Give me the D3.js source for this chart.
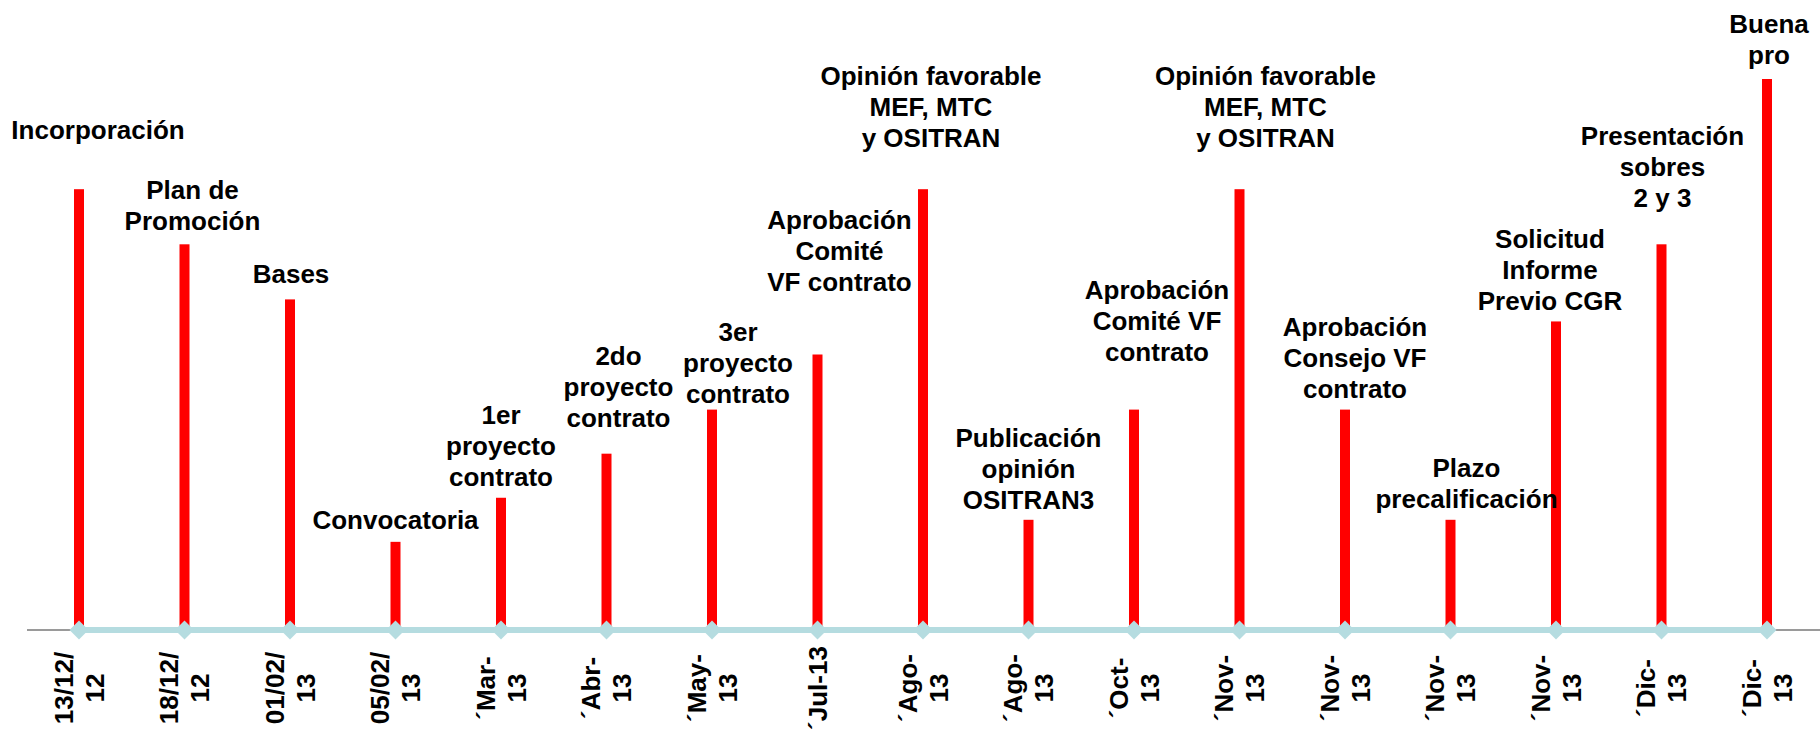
<!DOCTYPE html>
<meta charset="utf-8">
<style>
  body { margin: 0; background: #fff; }
  text { font-family: "Liberation Sans", Arial, sans-serif; font-weight: bold; fill: #000; }
</style>
<body>
<script src="https://d3js.org/d3.v7.min.js"></script>
<script>
// fechas del eje (dos lineas separadas por \n)
var fechas = ["13/12/\n12", "18/12/\n12", "01/02/\n13", "05/02/\n13", "´Mar-\n13", "´Abr-\n13",
  "´May-\n13", "´Jul-13", "´Ago-\n13", "´Ago-\n13", "´Oct-\n13", "´Nov-\n13", "´Nov-\n13",
  "´Nov-\n13", "´Nov-\n13", "´Dic-\n13", "´Dic-\n13"];

// altura de cada hito
var alturas = [40, 35, 30, 8, 12, 16, 20, 25, 40, 10, 20, 40, 20, 10, 28, 35, 50];

var hitos = ["Incorporación", "Plan de\nPromoción", "Bases", "Convocatoria",
  "1er\nproyecto\ncontrato", "2do\nproyecto\ncontrato", "3er\nproyecto\ncontrato",
  "Aprobación\nComité\nVF contrato", "Opinión favorable\nMEF, MTC\ny OSITRAN",
  "Publicación\nopinión\nOSITRAN3", "Aprobación\nComité VF\ncontrato",
  "Opinión favorable\nMEF, MTC\ny OSITRAN", "Aprobación\nConsejo VF\ncontrato",
  "Plazo\nprecalificación", "Solicitud\nInforme\nPrevio CGR", "Presentación\nsobres\n2 y 3",
  "Buena\npro"];

// ajuste manual de las etiquetas [dx, subir]
var ajuste = [[19, 38], [8, 2], [1, 5], [0, 1], [0, 0], [12, 15], [26, -5], [22, 52], [8, 30],
  [0, -1], [23, 37], [26, 30], [10, 0], [16, 0], [-6, 0], [1, 25], [2, 3]];

var width = 1820,
    height = 736,
    axisY = 630,
    lineH = 31;

var svg = d3.select("body").append("svg")
    .attr("width", width)
    .attr("height", height);

svg.append("rect").attr("width", width).attr("height", height).attr("fill", "#fff");

var x = d3.scalePoint()
    .domain(d3.range(fechas.length))
    .range([79, 1767]);

var y = d3.scaleLinear()
    .domain([0, 50])
    .range([axisY, 79]);

// barras
svg.append("g").selectAll("rect")
  .data(alturas)
  .enter().append("rect")
    .attr("x", function(d, i) { return x(i) - 5; })
    .attr("y", function(d) { return y(d); })
    .attr("width", 10)
    .attr("height", function(d) { return y(0) - y(d); })
    .attr("fill", "#ff0000");

// eje
svg.append("line")
    .attr("x1", 27).attr("x2", width)
    .attr("y1", axisY).attr("y2", axisY)
    .attr("stroke", "#9a9a9a")
    .attr("stroke-width", 2);

svg.append("line")
    .attr("x1", x(0)).attr("x2", x(fechas.length - 1))
    .attr("y1", axisY).attr("y2", axisY)
    .attr("stroke", "#b5dce0")
    .attr("stroke-width", 6);

var diamond = d3.symbol().type(d3.symbolSquare).size(180);
svg.append("g").selectAll("path")
  .data(alturas)
  .enter().append("path")
    .attr("d", diamond)
    .attr("transform", function(d, i) { return "translate(" + x(i) + "," + axisY + ")rotate(45)"; })
    .attr("fill", "#b5dce0");

// etiquetas del eje, rotadas
var ticks = svg.append("g").selectAll("text")
  .data(fechas)
  .enter().append("text")
    .attr("transform", function(d, i) { return "translate(" + x(i) + ",688)rotate(-90)"; })
    .attr("text-anchor", "middle")
    .style("font-size", "26px");

ticks.each(function(d) {
  var lines = d.split("\n");
  var t = d3.select(this);
  lines.forEach(function(l, j) {
    t.append("tspan")
      .attr("x", 0)
      .attr("y", (j - (lines.length - 1) / 2) * 31)
      .attr("dy", "0.35em")
      .text(l);
  });
});

// etiquetas de hitos
var labels = svg.append("g").selectAll("text")
  .data(hitos)
  .enter().append("text")
    .attr("text-anchor", "middle")
    .style("font-size", "26px");

labels.each(function(d, i) {
  var lines = d.split("\n");
  var t = d3.select(this);
  var cx = x(i) + ajuste[i][0];
  var last = y(alturas[i]) - 21 - ajuste[i][1];
  lines.forEach(function(l, j) {
    t.append("tspan")
      .attr("x", cx)
      .attr("y", last - (lines.length - 1 - j) * lineH)
      .attr("dy", "0.35em")
      .text(l);
  });
});
</script>
</body>
